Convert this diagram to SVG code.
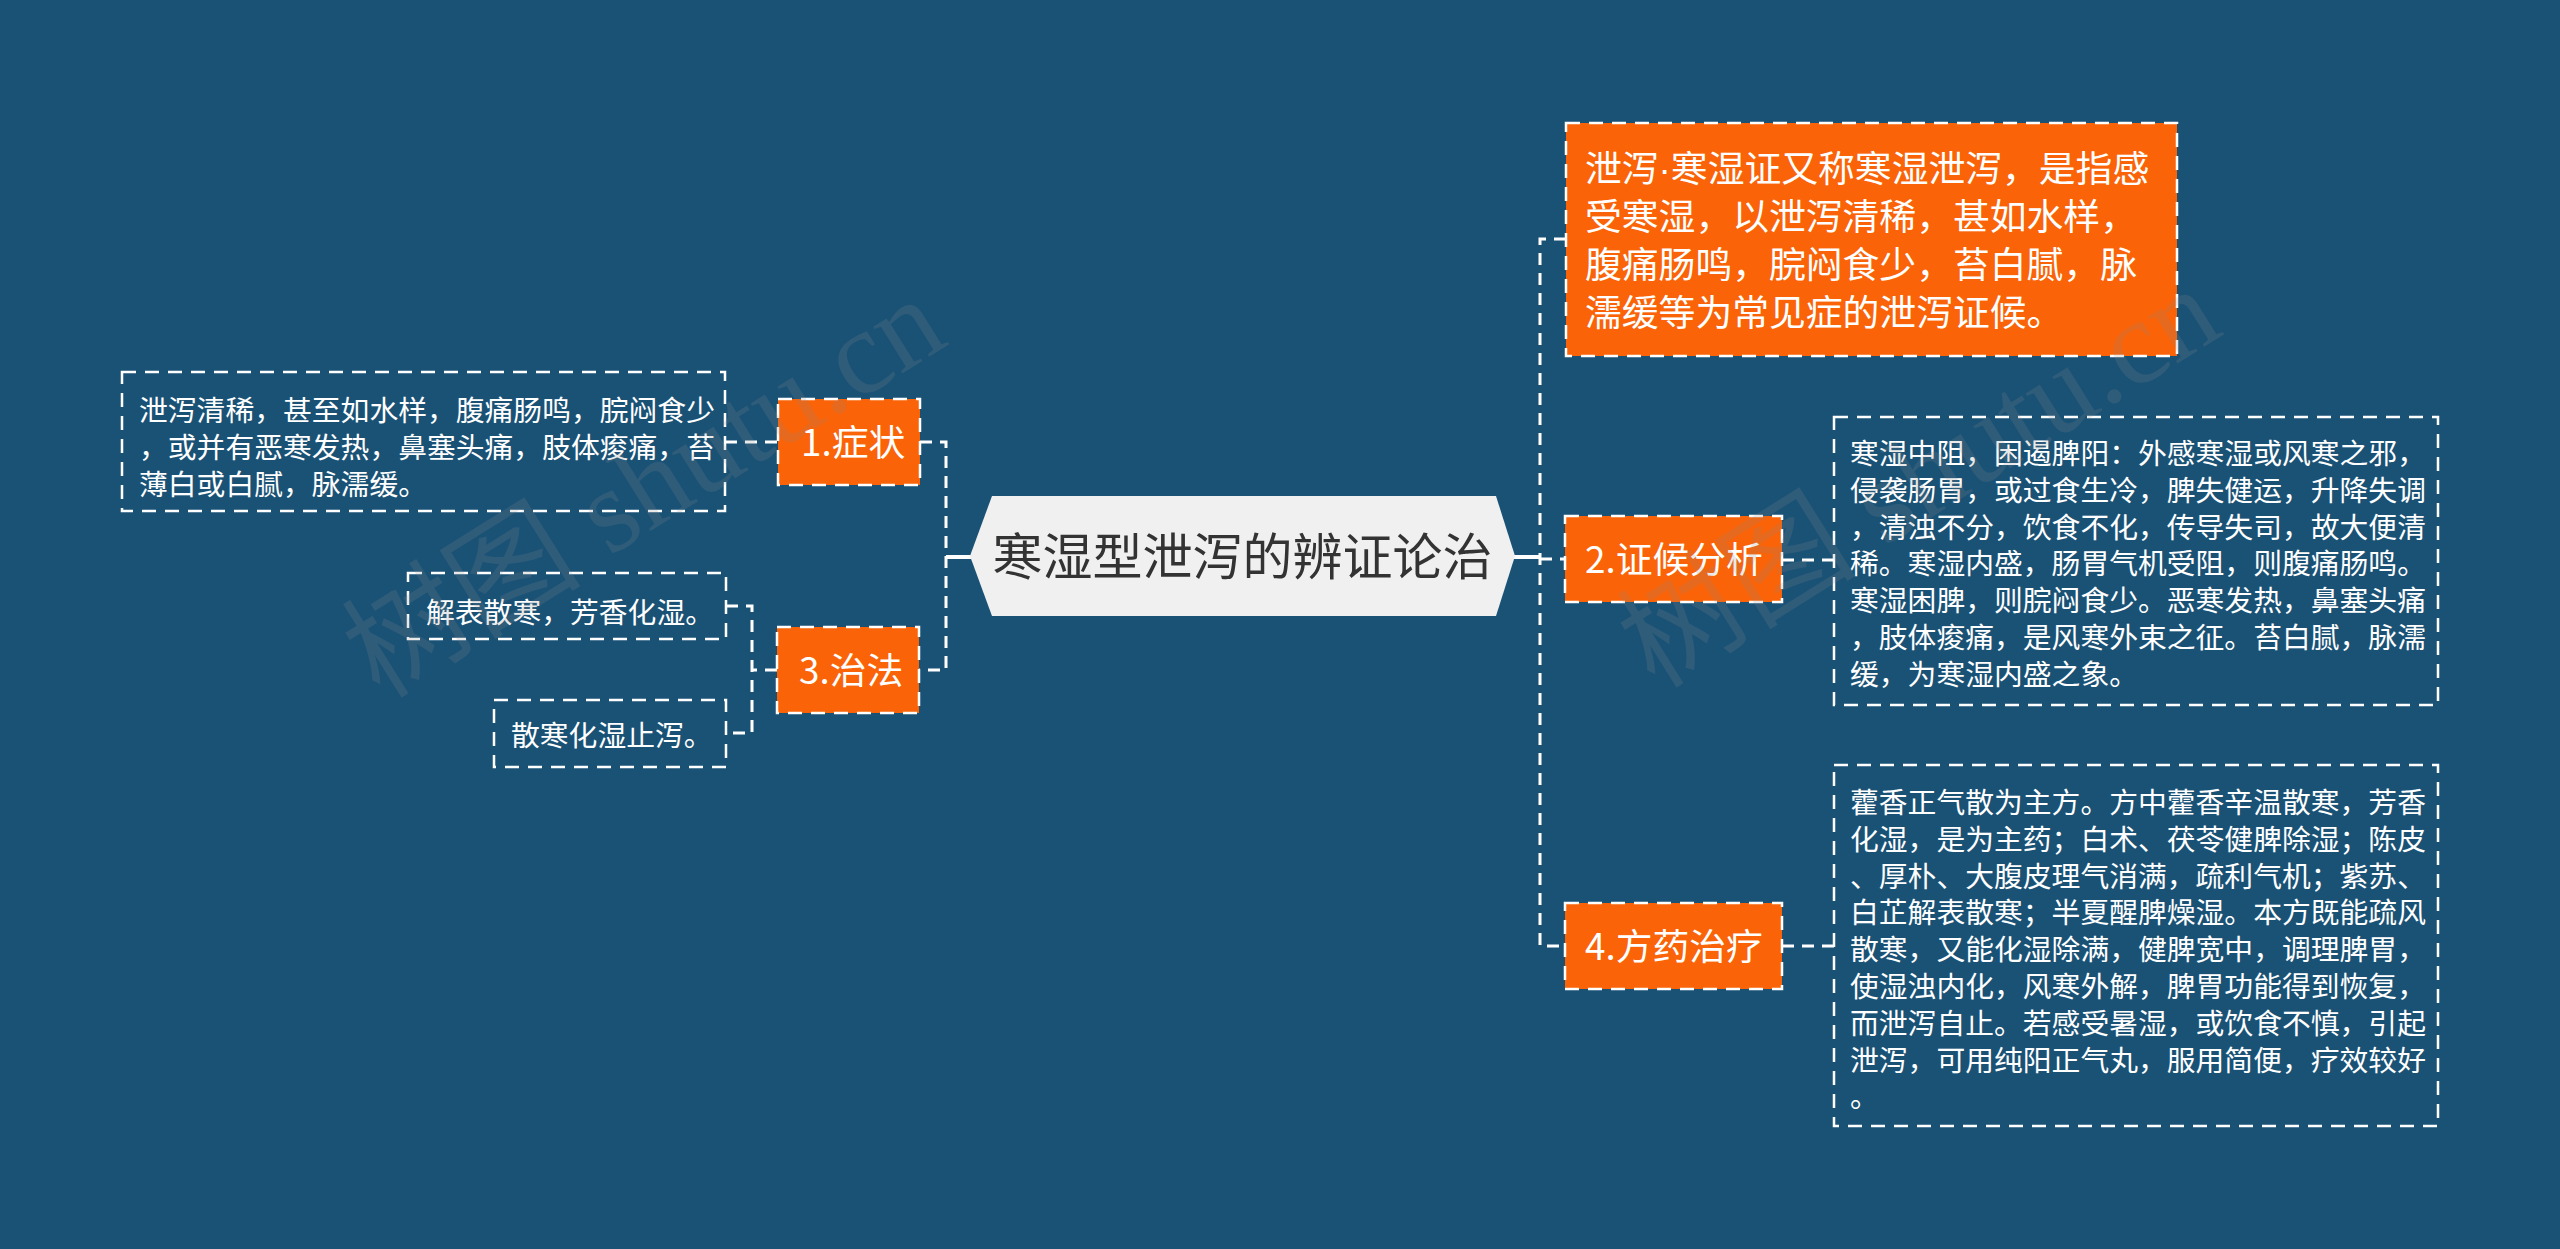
<svg xmlns="http://www.w3.org/2000/svg" width="2560" height="1249" viewBox="0 0 2560 1249">
<style>
.conn{fill:none;stroke:#fff;stroke-width:3;stroke-dasharray:12 8}
.solid{fill:none;stroke:#fff;stroke-width:4}
.ob{fill:#fa6307;stroke:#fff;stroke-width:2.5;stroke-dasharray:14 9}
.wb{fill:none;stroke:#fff;stroke-width:2.5;stroke-dasharray:14 9}
.t{font-family:"Noto Sans CJK SC","Noto Sans",sans-serif;fill:#fff}
.ot{font-size:36.8px}
.wt{font-size:28.8px}
.title{font-family:"Noto Sans CJK SC","Noto Sans",sans-serif;font-size:50px;fill:#333}
.wm{font-family:"Liberation Serif","Noto Sans CJK SC",serif;font-size:120px;fill:#8a8a8a;opacity:0.18}
</style>
<rect x="0" y="0" width="2560" height="1249" fill="#1a5276"/>
<g id="connectors">
<path class="solid" d="M946 557 H971"/>
<path class="conn" d="M920 442 H946 V670 H919"/>
<path class="conn" d="M725 442 H778"/>
<path class="conn" d="M777 670 H752"/>
<path class="conn" d="M726 606 H752 V733 H726"/>
<path class="solid" d="M1514 557 H1540"/>
<path class="conn" d="M1566 239 H1540 V946 H1565"/>
<path class="conn" d="M1540 559 H1565"/>
<path class="conn" d="M1782 560 H1834"/>
<path class="conn" d="M1782 946 H1834"/>
</g>
<g id="center">
<polygon points="970,556 992,496 1496,496 1515,556 1496,616 992,616" fill="#f0f0f0"/>
<text class="title" x="1242.5" y="575" text-anchor="middle">寒湿型泄泻的辨证论治</text>
</g>
<g id="node-def">
<rect class="ob" x="1566" y="123" width="611" height="233"/>
<text class="t ot" x="1585" y="182">泄泻<tspan font-family="Liberation Sans">·</tspan>寒湿证又称寒湿泄泻，是指感</text>
<text class="t ot" x="1585" y="230">受寒湿，以泄泻清稀，甚如水样，</text>
<text class="t ot" x="1585" y="278">腹痛肠鸣，脘闷食少，苔白腻，脉</text>
<text class="t ot" x="1585" y="326">濡缓等为常见症的泄泻证候。</text>
</g>
<g id="node-1">
<rect class="ob" x="778" y="399" width="142" height="86"/>
<text class="t ot" x="801" y="456">1.症状</text>
</g>
<g id="node-1a">
<rect class="wb" x="122" y="372" width="603" height="139"/>
<text class="t wt" x="139" y="421">泄泻清稀，甚至如水样，腹痛肠鸣，脘闷食少<tspan x="139" dy="36.8">，或并有恶寒发热，鼻塞头痛，肢体痠痛，苔</tspan><tspan x="139" dy="36.8">薄白或白腻，脉濡缓。</tspan></text>
</g>
<g id="node-3">
<rect class="ob" x="777" y="627" width="142" height="86"/>
<text class="t ot" x="799" y="684">3.治法</text>
</g>
<g id="node-3a">
<rect class="wb" x="408" y="573" width="318" height="66"/>
<text class="t wt" x="426" y="623">解表散寒，芳香化湿。</text>
</g>
<g id="node-3b">
<rect class="wb" x="494" y="700" width="232" height="67"/>
<text class="t wt" x="511" y="746">散寒化湿止泻。</text>
</g>
<g id="node-2">
<rect class="ob" x="1565" y="516" width="217" height="86"/>
<text class="t ot" x="1585" y="573">2.证候分析</text>
</g>
<g id="node-2a">
<rect class="wb" x="1834" y="417" width="604" height="288"/>
<text class="t wt" x="1850" y="464">寒湿中阻，困遏脾阳：外感寒湿或风寒之邪，<tspan x="1850" dy="36.8">侵袭肠胃，或过食生冷，脾失健运，升降失调</tspan><tspan x="1850" dy="36.8">，清浊不分，饮食不化，传导失司，故大便清</tspan><tspan x="1850" dy="36.8">稀。寒湿内盛，肠胃气机受阻，则腹痛肠鸣。</tspan><tspan x="1850" dy="36.8">寒湿困脾，则脘闷食少。恶寒发热，鼻塞头痛</tspan><tspan x="1850" dy="36.8">，肢体痠痛，是风寒外束之征。苔白腻，脉濡</tspan><tspan x="1850" dy="36.8">缓，为寒湿内盛之象。</tspan></text>
</g>
<g id="node-4">
<rect class="ob" x="1565" y="903" width="217" height="86"/>
<text class="t ot" x="1585" y="960">4.方药治疗</text>
</g>
<g id="node-4a">
<rect class="wb" x="1834" y="765" width="604" height="361"/>
<text class="t wt" x="1850" y="813">藿香正气散为主方。方中藿香辛温散寒，芳香<tspan x="1850" dy="36.8">化湿，是为主药；白术、茯苓健脾除湿；陈皮</tspan><tspan x="1850" dy="36.8">、厚朴、大腹皮理气消满，疏利气机；紫苏、</tspan><tspan x="1850" dy="36.8">白芷解表散寒；半夏醒脾燥湿。本方既能疏风</tspan><tspan x="1850" dy="36.8">散寒，又能化湿除满，健脾宽中，调理脾胃，</tspan><tspan x="1850" dy="36.8">使湿浊内化，风寒外解，脾胃功能得到恢复，</tspan><tspan x="1850" dy="36.8">而泄泻自止。若感受暑湿，或饮食不慎，引起</tspan><tspan x="1850" dy="36.8">泄泻，可用纯阳正气丸，服用简便，疗效较好</tspan><tspan x="1850" dy="36.8">。</tspan></text>
</g>
<g id="watermark">
<text class="wm" x="380" y="700" transform="rotate(-32 380 700)">树图 shutu.cn</text>
<text class="wm" x="1655" y="690" transform="rotate(-32 1655 690)">树图 shutu.cn</text>
</g>
</svg>
